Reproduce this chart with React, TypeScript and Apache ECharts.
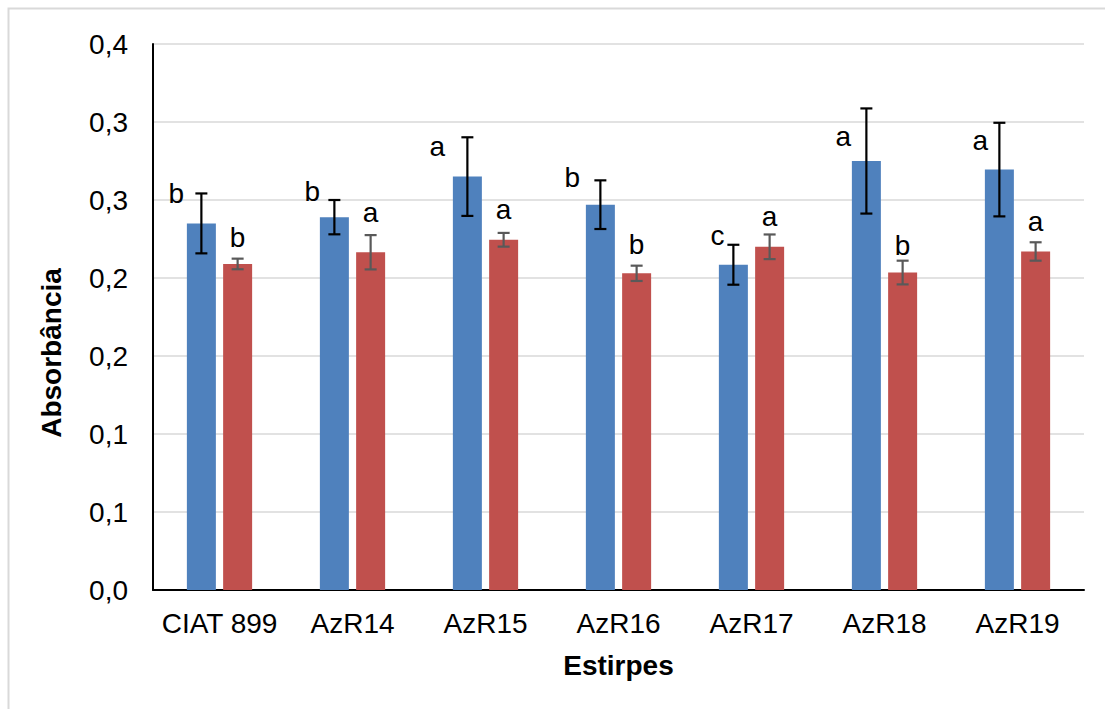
import React, { useEffect, useRef } from "react";
import * as echarts from "echarts";

// ---- data ----
const categories = ["CIAT 899", "AzR14", "AzR15", "AzR16", "AzR17", "AzR18", "AzR19"];
const blueValues = [0.235, 0.239, 0.265, 0.247, 0.2085, 0.275, 0.2695];
const blueErrors = [0.0192, 0.011, 0.0252, 0.0156, 0.0128, 0.0337, 0.03];
const redValues = [0.209, 0.2165, 0.2245, 0.203, 0.22, 0.2035, 0.217];
const redErrors = [0.0034, 0.011, 0.0044, 0.0049, 0.0079, 0.0076, 0.0059];
const blueLetters = ["b", "b", "a", "b", "c", "a", "a"];
const redLetters = ["b", "a", "a", "b", "a", "b", "a"];
const yTicks = { min: 0, max: 0.35, interval: 0.05 };

// ---- layout (pixel offsets of the letters from the top of each error bar) ----
const blueLabelOffsets = [[-25, 0], [-22, -9], [-30, 9.5], [-28, -3], [-16, -9], [-23, 28], [-19, 17.5]];
const redLabelOffsets = [[0, -21], [0, -22.5], [0, -23], [0, -21], [0, -17.5], [0, -15], [0, -20.5]];

const FONT = '"Liberation Sans", Arial, sans-serif';
const BLUE = "#4F81BD";
const RED = "#C0504D";
const BAR_W = 29;
const BAR_GAP = 0.25;
const HALF_OFFSET = (BAR_W * 2 + BAR_W * BAR_GAP) / 2 - BAR_W / 2;

function errorSeries(
  name: string,
  values: number[],
  errors: number[],
  letters: string[],
  offsets: number[][],
  xShift: number,
  color: string
) {
  return {
    name,
    type: "custom",
    z: 10,
    encode: { x: 0, y: 1 },
    data: values.map((v, i) => [i, v, errors[i]]),
    renderItem: (params: any, api: any) => {
      const idx = api.value(0);
      const val = api.value(1);
      const err = api.value(2);
      const top = api.coord([idx, val + err]);
      const bot = api.coord([idx, val - err]);
      const x = top[0] + xShift;
      const cap = 6;
      const style = { stroke: color, lineWidth: 2.2 };
      const off = offsets[params.dataIndex];
      return {
        type: "group",
        children: [
          { type: "line", shape: { x1: x, y1: top[1], x2: x, y2: bot[1] }, style },
          { type: "line", shape: { x1: x - cap, y1: top[1], x2: x + cap, y2: top[1] }, style },
          { type: "line", shape: { x1: x - cap, y1: bot[1], x2: x + cap, y2: bot[1] }, style },
          {
            type: "text",
            x: x + off[0],
            y: top[1] + off[1],
            style: {
              text: letters[params.dataIndex],
              fill: "#000",
              fontSize: 28,
              fontFamily: FONT,
              align: "center",
              verticalAlign: "middle",
            },
          },
        ],
      };
    },
  };
}

export default function App() {
  const ref = useRef<HTMLDivElement>(null);
  useEffect(() => {
    if (!ref.current) return;
    const chart = echarts.init(ref.current, null, { renderer: "svg" });
    chart.setOption({
      animation: false,
      backgroundColor: "#fff",
      grid: { left: 153, right: 21, top: 44, bottom: 119, containLabel: false },
      graphic: [
        {
          type: "rect",
          shape: { x: 8.5, y: 8.5, width: 1200, height: 800 },
          style: { fill: "none", stroke: "#d9d9d9", lineWidth: 2 },
          silent: true,
        },
        {
          type: "text",
          x: 51,
          y: 353,
          rotation: Math.PI / 2,
          style: {
            text: "Absorbância",
            fill: "#000",
            font: `bold 28px ${FONT}`,
            align: "center",
            verticalAlign: "middle",
          },
        },
      ],
      xAxis: {
        type: "category",
        data: categories,
        name: "Estirpes",
        nameLocation: "middle",
        nameGap: 61,
        nameTextStyle: { fontFamily: FONT, fontSize: 28, fontWeight: "bold", color: "#000" },
        axisLine: { lineStyle: { color: "#000", width: 2 } },
        axisTick: { show: false },
        axisLabel: { fontFamily: FONT, fontSize: 28, color: "#000", margin: 19, interval: 0 },
        splitLine: { show: false },
      },
      yAxis: {
        type: "value",
        min: yTicks.min,
        max: yTicks.max,
        interval: yTicks.interval,
        axisLine: { show: true, lineStyle: { color: "#000", width: 2 } },
        axisTick: { show: false },
        axisLabel: {
          fontFamily: FONT,
          fontSize: 28,
          color: "#000",
          margin: 25,
          formatter: (v: number) => (Math.round(v * 10 + 1e-9) / 10).toFixed(1).replace(".", ","),
        },
        splitLine: { lineStyle: { color: "#d9d9d9", width: 1.5 } },
      },
      series: [
        {
          name: "blue",
          type: "bar",
          data: blueValues,
          barWidth: BAR_W,
          barGap: BAR_GAP * 100 + "%",
          itemStyle: { color: BLUE },
        },
        {
          name: "red",
          type: "bar",
          data: redValues,
          barWidth: BAR_W,
          barGap: BAR_GAP * 100 + "%",
          itemStyle: { color: RED },
        },
        errorSeries("blueErr", blueValues, blueErrors, blueLetters, blueLabelOffsets, -HALF_OFFSET, "#000"),
        errorSeries("redErr", redValues, redErrors, redLetters, redLabelOffsets, HALF_OFFSET, "#595959"),
      ],
    });
    return () => chart.dispose();
  }, []);
  return (
    <div
      ref={ref}
      style={{ position: "absolute", left: 0, top: 0, width: 1105, height: 709, background: "#fff" }}
    />
  );
}
